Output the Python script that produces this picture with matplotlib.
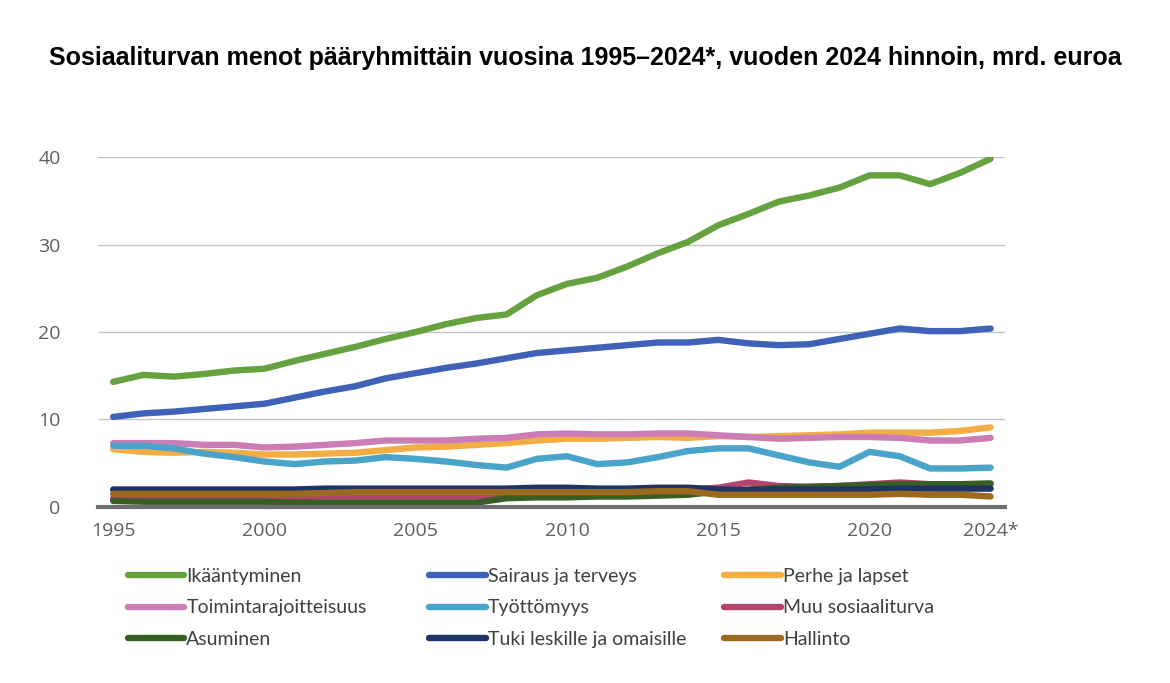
import numpy as np
import matplotlib
matplotlib.use("Agg")
import matplotlib.pyplot as plt
from matplotlib.lines import Line2D

years = list(range(1995, 2025))

ikaantyminen = [14.3, 15.1, 14.9, 15.2, 15.6, 15.8, 16.7, 17.5, 18.3, 19.2,
                20.0, 20.9, 21.6, 22.0, 24.2, 25.5, 26.2, 27.5, 29.0, 30.3,
                32.2, 33.5, 34.9, 35.6, 36.5, 37.9, 37.9, 36.9, 38.2, 39.8]
sairaus = [10.3, 10.7, 10.9, 11.2, 11.5, 11.8, 12.5, 13.2, 13.8, 14.7,
           15.3, 15.9, 16.4, 17.0, 17.6, 17.9, 18.2, 18.5, 18.8, 18.8,
           19.1, 18.7, 18.5, 18.6, 19.2, 19.8, 20.4, 20.1, 20.1, 20.4]
perhe = [6.6, 6.3, 6.2, 6.3, 6.2, 6.0, 6.0, 6.1, 6.2, 6.5,
         6.8, 6.9, 7.1, 7.3, 7.6, 7.8, 7.8, 7.9, 8.0, 7.9,
         8.1, 8.0, 8.1, 8.2, 8.3, 8.5, 8.5, 8.5, 8.7, 9.1]
toiminta = [7.3, 7.3, 7.3, 7.1, 7.1, 6.8, 6.9, 7.1, 7.3, 7.6,
            7.6, 7.6, 7.8, 7.9, 8.3, 8.4, 8.3, 8.3, 8.4, 8.4,
            8.2, 8.0, 7.8, 7.9, 8.0, 8.0, 7.9, 7.6, 7.6, 7.9]
tyottomyys = [7.0, 7.0, 6.7, 6.1, 5.7, 5.2, 4.9, 5.2, 5.3, 5.7,
              5.5, 5.2, 4.8, 4.5, 5.5, 5.8, 4.9, 5.1, 5.7, 6.4,
              6.7, 6.7, 5.9, 5.1, 4.6, 6.3, 5.8, 4.4, 4.4, 4.5]
muu = [1.0, 1.0, 1.0, 1.1, 1.1, 1.1, 1.1, 1.2, 1.2, 1.2,
       1.2, 1.2, 1.2, 1.3, 1.5, 1.6, 1.7, 1.8, 1.9, 2.0,
       2.2, 2.8, 2.4, 2.3, 2.4, 2.6, 2.8, 2.6, 2.6, 2.6]
asuminen = [0.7, 0.6, 0.6, 0.6, 0.6, 0.6, 0.5, 0.5, 0.5, 0.5,
            0.5, 0.5, 0.5, 1.0, 1.1, 1.1, 1.2, 1.2, 1.3, 1.4,
            1.8, 2.0, 2.2, 2.3, 2.4, 2.5, 2.6, 2.6, 2.6, 2.7]
tuki = [2.0, 2.0, 2.0, 2.0, 2.0, 2.0, 2.0, 2.1, 2.1, 2.1,
        2.1, 2.1, 2.1, 2.1, 2.2, 2.2, 2.1, 2.1, 2.2, 2.2,
        2.0, 1.9, 2.0, 2.0, 2.0, 2.0, 2.1, 2.1, 2.1, 2.1]
hallinto = [1.5, 1.5, 1.5, 1.5, 1.5, 1.5, 1.5, 1.6, 1.7, 1.7,
            1.7, 1.7, 1.7, 1.7, 1.7, 1.7, 1.7, 1.7, 1.8, 1.8,
            1.4, 1.4, 1.4, 1.4, 1.4, 1.4, 1.5, 1.4, 1.4, 1.2]

names = ["Ikääntyminen", "Sairaus ja terveys", "Perhe ja lapset",
         "Toimintarajoitteisuus", "Työttömyys", "Muu sosiaaliturva",
         "Asuminen", "Tuki leskille ja omaisille", "Hallinto"]
series = [ikaantyminen, sairaus, perhe, toiminta, tyottomyys, muu,
          asuminen, tuki, hallinto]
colors = ["#65A23F", "#3F62B8", "#F2AE45", "#CC7DB6", "#4AA3C8",
          "#B3446F", "#375F23", "#1F3466", "#9C6A1E"]

xticks = [1995, 2000, 2005, 2010, 2015, 2020, 2024]
xticklabels = ["1995", "2000", "2005", "2010", "2015", "2020", "2024*"]

fig = plt.figure(figsize=(11.7, 6.83), dpi=100)
ax = fig.add_axes([0.0838, 0.2577, 0.775, 0.5124])

for vals, name, c in zip(series, names, colors):
    ax.plot(years, vals, color=c, lw=4.6, solid_capstyle="round",
            solid_joinstyle="round", label=name)

ax.set_xlim(1994.5, 2024.47)
ax.set_ylim(0, 40)
ax.set_yticks([0, 10, 20, 30, 40])
ax.set_xticks(xticks)
ax.set_xticklabels(xticklabels)
ax.grid(axis="y", color="#C4C4C4", lw=1)
ax.set_axisbelow(True)
for s in ["top", "right", "left"]:
    ax.spines[s].set_visible(False)
ax.spines["bottom"].set_color("#6E6E6E")
ax.spines["bottom"].set_linewidth(3)
ax.spines["bottom"].set_zorder(5)
ax.tick_params(length=0, labelsize=14, labelcolor="#5F5F5F")
ax.tick_params(axis="y", pad=27)
ax.tick_params(axis="x", pad=11)
for lab in ax.get_xticklabels() + ax.get_yticklabels():
    lab.set_fontfamily("Open Sans")

fig.text(0.5, 0.915, "Sosiaaliturvan menot pääryhmittäin vuosina 1995–2024*, vuoden 2024 hinnoin, mrd. euroa",
         ha="center", va="center", fontsize=18, fontweight="bold",
         family="Liberation Sans")

# three legend columns placed separately
col_x = [0.109, 0.367, 0.619]
for col in range(3):
    handles = [Line2D([0], [0], color=colors[r * 3 + col], lw=4.6,
                      solid_capstyle="round") for r in range(3)]
    labels = [names[r * 3 + col] for r in range(3)]
    fig.legend(handles, labels, loc="upper left",
               bbox_to_anchor=(col_x[col], 0.168), frameon=False,
               handlelength=2.9, handletextpad=0.12, labelspacing=0.73,
               borderaxespad=0, borderpad=0,
               prop={"family": "Lato", "size": 14}, labelcolor="#404040")

fig.savefig("out.png", dpi=100)
